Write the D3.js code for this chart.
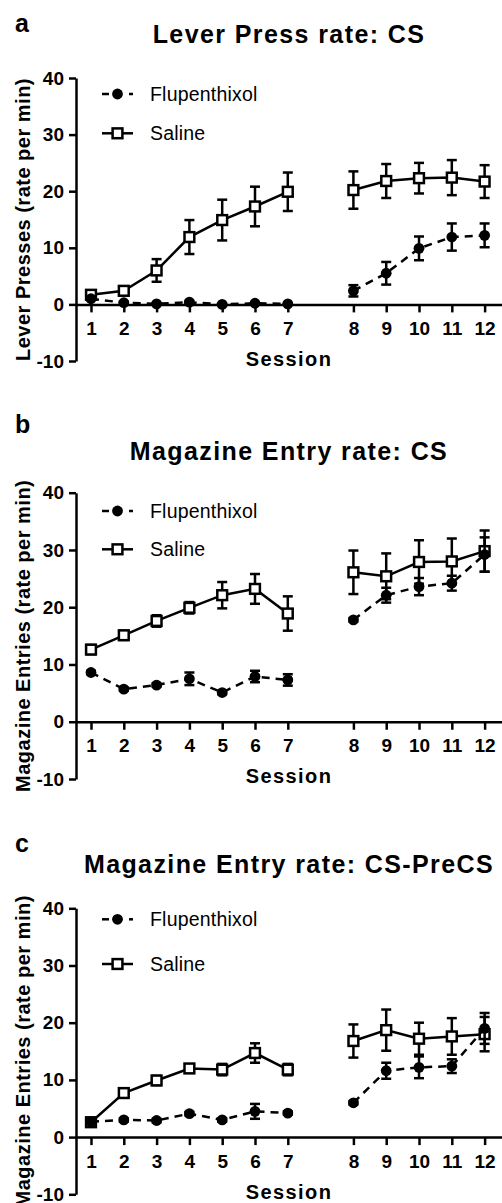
<!DOCTYPE html>
<html><head><meta charset="utf-8">
<script src="https://cdn.jsdelivr.net/npm/d3@7"></script>
<style>
body{margin:0;background:#fff}
svg{display:block}
text{font-family:"Liberation Sans",Arial,Helvetica,sans-serif;fill:#000}
</style></head>
<body><svg id="chart" width="502" height="1203"></svg>
<script>
// ---- data ----
const sessions = [1,2,3,4,5,6,7,8,9,10,11,12];
const yTicks = [-10,0,10,20,30,40];
const seriesNames = ["Flupenthixol","Saline"];

const salA    = [1.7, 2.4, 6.0, 11.9, 14.9, 17.3, 19.9, 20.2, 21.8, 22.3, 22.4, 21.7];
const salAErr = [0.4, 0.4, 2.0, 3.0, 3.6, 3.5, 3.4, 3.3, 3.0, 2.7, 3.1, 2.9];
const fluA    = [1.0, 0.3, 0.1, 0.4, 0.0, 0.2, 0.1, 2.4, 5.5, 9.9, 11.9, 12.2];
const fluAErr = [0.2, 0.2, 0.1, 0.2, 0.1, 0.2, 0.1, 1.0, 2.0, 2.1, 2.4, 2.1];

const salB    = [12.6, 15.1, 17.6, 19.9, 22.1, 23.2, 18.9, 26.1, 25.4, 27.9, 28.0, 29.8];
const salBErr = [0.8, 0.8, 1.0, 1.0, 2.3, 2.6, 3.0, 3.8, 4.0, 3.8, 4.0, 3.6];
const fluB    = [8.6, 5.7, 6.4, 7.5, 5.1, 7.9, 7.3, 17.8, 22.1, 23.6, 24.2, 29.2];
const fluBErr = [0.3, 0.3, 0.3, 1.1, 0.3, 1.0, 1.0, 0.3, 1.3, 1.5, 1.3, 3.0];

const salC    = [2.6, 7.7, 9.9, 12.0, 11.8, 14.7, 11.8, 16.8, 18.7, 17.2, 17.6, 18.0];
const salCErr = [0.5, 0.8, 0.8, 0.7, 1.0, 1.7, 1.0, 2.9, 3.6, 2.8, 3.2, 3.0];
const fluC    = [2.7, 3.0, 2.9, 4.1, 3.0, 4.5, 4.2, 6.0, 11.6, 12.2, 12.4, 19.0];
const fluCErr = [0.3, 0.3, 0.3, 0.3, 0.3, 1.3, 0.3, 0.3, 1.4, 1.9, 1.2, 2.7];

// ---- layout ----
const panels = [
  {letter:"a", title:"Lever Press rate: CS", ylabel:"Lever Presses (rate per min)",
   sal:salA, salErr:salAErr, flu:fluA, fluErr:fluAErr,
   letterY:32, titleY:43, legY:[94,133.3], yRange:[361,78]},
  {letter:"b", title:"Magazine Entry rate: CS", ylabel:"Magazine Entries (rate per min)",
   sal:salB, salErr:salBErr, flu:fluB, fluErr:fluBErr,
   letterY:433, titleY:460, legY:[511,549.3], yRange:[779,492.7]},
  {letter:"c", title:"Magazine Entry rate: CS-PreCS", ylabel:"Magazine Entries (rate per min)",
   sal:salC, salErr:salCErr, flu:fluC, fluErr:fluCErr,
   letterY:852, titleY:873, legY:[919.3,964], yRange:[1194.3,908.3]}
];

const svg = d3.select("#chart");
const pos = s => s <= 7 ? s : s + 1;           // gap between session 7 and 8
const x = d3.scaleLinear().domain([0.543, 13.53]).range([76, 502]);
const LW = 2.5;

panels.forEach(p => {
  const y = d3.scaleLinear().domain([-10, 40]).range(p.yRange);
  const g = svg.append("g");

  g.append("text").attr("x", 15).attr("y", p.letterY)
    .attr("font-size", 25).attr("font-weight", "bold").text(p.letter);
  g.append("text").attr("x", 289).attr("y", p.titleY).attr("text-anchor", "middle")
    .attr("font-size", 25).attr("font-weight", "bold").attr("letter-spacing", 1.4).text(p.title);

  // y axis
  const ya = g.append("g").attr("transform", "translate(76,0)")
    .call(d3.axisLeft(y).tickValues(yTicks).tickSize(7).tickSizeOuter(0).tickPadding(5).tickFormat(d => String(d)));
  ya.selectAll("path,line").attr("stroke", "#000").attr("stroke-width", LW);
  ya.selectAll("text").attr("font-size", 19).attr("font-weight", "bold")
    .attr("font-family", "'Liberation Sans',Arial,sans-serif").attr("fill", "#000");

  // x axis
  const xa = g.append("g").attr("transform", `translate(0,${y(0)})`)
    .call(d3.axisBottom(x).tickValues(sessions.map(pos)).tickSize(8).tickSizeOuter(0).tickPadding(9)
      .tickFormat((d, i) => sessions[i]));
  xa.selectAll("path,line").attr("stroke", "#000").attr("stroke-width", LW);
  xa.selectAll("text").attr("font-size", 19).attr("font-weight", "bold")
    .attr("font-family", "'Liberation Sans',Arial,sans-serif").attr("fill", "#000");

  g.append("text").attr("x", 289).attr("y", y(0) + 61.5).attr("text-anchor", "middle")
    .attr("font-size", 20).attr("font-weight", "bold").attr("letter-spacing", 1.4).text("Session");

  const yc = (p.yRange[0] + p.yRange[1]) / 2;
  g.append("text").attr("transform", `translate(30,${yc}) rotate(-90)`).attr("text-anchor", "middle")
    .attr("font-size", 20).attr("font-weight", "bold").attr("letter-spacing", 0.5).text(p.ylabel);

  // series
  const drawSeries = (vals, errs, kind) => {
    const data = sessions.map((s, i) => ({s, v: vals[i], e: errs[i]}));
    const eb = g.append("g").attr("stroke", "#000").attr("stroke-width", LW);
    data.forEach(d => {
      const cx = x(pos(d.s));
      eb.append("line").attr("x1", cx).attr("x2", cx).attr("y1", y(d.v - d.e)).attr("y2", y(d.v + d.e));
      [d.v - d.e, d.v + d.e].forEach(t =>
        eb.append("line").attr("x1", cx - 5).attr("x2", cx + 5).attr("y1", y(t)).attr("y2", y(t)));
    });
    const line = d3.line().x(d => x(pos(d.s))).y(d => y(d.v));
    [data.filter(d => d.s <= 7), data.filter(d => d.s >= 8)].forEach(seg => {
      g.append("path").attr("d", line(seg)).attr("fill", "none").attr("stroke", "#000")
        .attr("stroke-width", LW).attr("stroke-dasharray", kind === "flu" ? "8,6" : null);
    });
    data.forEach(d => {
      const cx = x(pos(d.s)), cy = y(d.v);
      if (kind === "flu") g.append("circle").attr("cx", cx).attr("cy", cy).attr("r", 5.4).attr("fill", "#000");
      else g.append("rect").attr("x", cx - 4.9).attr("y", cy - 4.9).attr("width", 9.8).attr("height", 9.8)
        .attr("fill", "#fff").attr("stroke", "#000").attr("stroke-width", LW);
    });
  };
  drawSeries(p.sal, p.salErr, "sal");
  drawSeries(p.flu, p.fluErr, "flu");

  // legend
  const l0 = p.legY[0], l1 = p.legY[1];
  g.append("line").attr("x1", 102).attr("x2", 109).attr("y1", l0).attr("y2", l0).attr("stroke", "#000").attr("stroke-width", LW);
  g.append("line").attr("x1", 129).attr("x2", 133).attr("y1", l0).attr("y2", l0).attr("stroke", "#000").attr("stroke-width", LW);
  g.append("circle").attr("cx", 117.5).attr("cy", l0).attr("r", 5.4).attr("fill", "#000");
  g.append("line").attr("x1", 102).attr("x2", 133).attr("y1", l1).attr("y2", l1).attr("stroke", "#000").attr("stroke-width", LW);
  g.append("rect").attr("x", 117.5 - 4.9).attr("y", l1 - 4.9).attr("width", 9.8).attr("height", 9.8)
    .attr("fill", "#fff").attr("stroke", "#000").attr("stroke-width", LW);
  [l0, l1].forEach((ly, i) =>
    g.append("text").attr("x", 150).attr("y", ly + 7).attr("font-size", 19.5).attr("letter-spacing", 0.2).text(seriesNames[i]));
});
</script>
</body></html>
